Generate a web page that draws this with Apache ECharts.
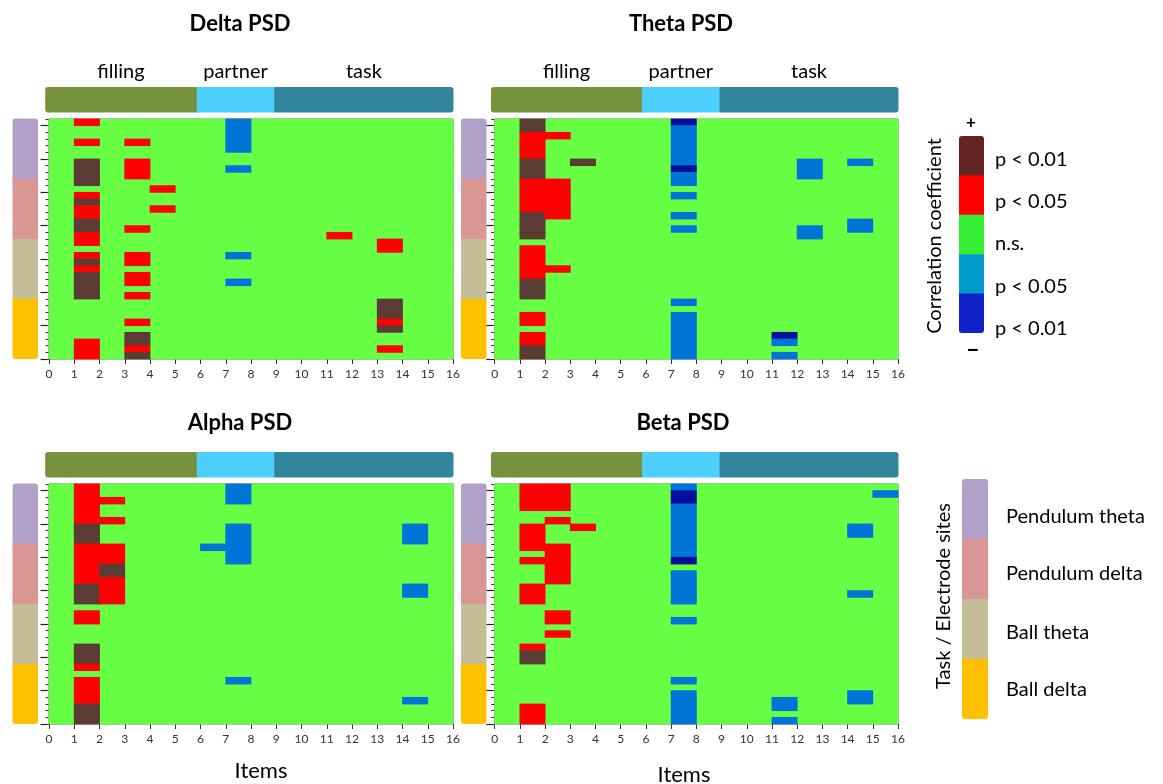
<!DOCTYPE html>
<html><head><meta charset="utf-8">
<script src="https://cdn.jsdelivr.net/npm/echarts@6/dist/echarts.min.js"></script>
<style>html,body{margin:0;padding:0;background:#fff}#c{width:1163px;height:784px}</style>
</head><body><div id="c"></div>
<script>
// ---------------- DATA ----------------
// Each string = one electrode-site row (top to bottom), each char = one item column (0..15).
// '.' n.s., 'r' positive p<0.05, 'R' positive p<0.01, 'b' negative p<0.05, 'B' negative p<0.01
const panelTitles = ['Delta PSD', 'Theta PSD', 'Alpha PSD', 'Beta PSD'];
const itemTicks = [0,1,2,3,4,5,6,7,8,9,10,11,12,13,14,15,16];

const deltaRows = [
".r.....b........", ".......b........", ".......b........", ".r.r...b........",
".......b........", "................", ".R.r............", ".R.r...b........",
".R.r............", ".R..............", "....r...........", ".r..............",
".R..............", ".r..r...........", ".r..............", ".R..............",
".R.r............", ".r.........r....", ".r...........r..", ".............r..",
".r.r...b........", ".R.r............", ".r..............", ".R.r............",
".R.r...b........", ".R..............", ".R.r............", ".............R..",
".............R..", ".............R..", "...r.........r..", ".............R..",
"...R............", ".r.R............", ".r.r.........r..", ".r.R............"
];
const thetaRows = [
".R.....B........", ".R.....b........", ".rr....b........", ".r.....b........",
".r.....b........", ".r.....b........", ".R.R...b....b.b.", ".R.....B....b...",
".R.....b....b...", ".rr....b........", ".rr.............", ".rr....b........",
".rr.............", ".rr.............", ".Rr....b........", ".R............b.",
".R.....b....b.b.", ".R..........b...", "................", ".r..............",
".r..............", ".r..............", ".rr.............", ".r..............",
".R..............", ".R..............", ".R..............", ".......b........",
"................", ".r.....b........", ".r.....b........", ".......b........",
".r.....b...B....", ".r.....b...b....", ".R.....b........", ".R.....b...b...."
];
const alphaRows = [
".r.....b........", ".r.....b........", ".rr....b........", ".r..............",
".r..............", ".rr.............", ".R.....b......b.", ".R.....b......b.",
".R.....b......b.", ".rr...bb........", ".rr....b........", ".rr....b........",
".rR.............", ".rR.............", ".rr.............", ".Rr...........b.",
".Rr...........b.", ".Rr.............", "................", ".r..............",
".r..............", "................", "................", "................",
".R..............", ".R..............", ".R..............", ".r..............",
"................", ".r.....b........", ".r..............", ".r..............",
".r............b.", ".R..............", ".R..............", ".R.............."
];
const betaRows = [
".rr....b........", ".rr....B.......b", ".rr....B........", ".rr....b........",
".......b........", "..r....b........", ".r.r...b......b.", ".r.....b......b.",
".r.....b........", ".rr....b........", "..r....b........", ".rr....B........",
"..r.............", "..r....b........", "..r....b........", ".r.....b........",
".r.....b......b.", ".r.....b........", "................", "..r.............",
"..r....b........", "................", "..r.............", "................",
".r..............", ".R..............", ".R..............", "................",
"................", ".......b........", "................", ".......b......b.",
".......b...b..b.", ".r.....b...b....", ".r.....b........", ".r.....b...b...."
];
const levelCodes = {'.': 0, 'r': 1, 'R': 2, 'b': -1, 'B': -2};

// item groups along the top bar: [start, end] in item units
const itemGroupNames = ['filling', 'partner', 'task'];
const itemGroupBounds = [-0.15, 5.85, 8.92, 16.02];

// task / electrode site groups (rows, top to bottom)
const siteGroupNames = ['Pendulum theta', 'Pendulum delta', 'Ball theta', 'Ball delta'];
const siteGroupSizes = [9, 9, 9, 9];

// correlation legend (top to bottom)
const corrLegendLevels = [2, 1, 0, -1, -2];
const corrLegendLabels = ['p < 0.01', 'p < 0.05', 'n.s.', 'p < 0.05', 'p < 0.01'];

// ---------------- STYLE / LAYOUT ----------------
const NROWS = 36, NITEMS = 16;
const FONT = 'Lato, "Open Sans", "Noto Sans", sans-serif';
const cellColor = {'2': '#5b3c35', '1': '#ff0000', '0': '#66ff44', '-1': '#0075d8', '-2': '#060f9c'};
const legendColor = {'2': '#632523', '1': '#ff0000', '0': '#33ee33', '-1': '#0099cc', '-2': '#1122cc'};
const itemGroupColors = ['#77923c', '#4dd0ff', '#31869e'];
const siteGroupColors = ['#b1a0c7', '#d99694', '#c4bd98', '#ffc000'];

const panelLayout = [
  {left: 49, top: 119, width: 404, side: 12.5, showHeadLabels: true},
  {left: 494.7, top: 119, width: 403.3, side: 461, showHeadLabels: true},
  {left: 49, top: 484, width: 404, side: 12.5, showHeadLabels: false},
  {left: 494.7, top: 484, width: 403.3, side: 461, showHeadLabels: false}
];
const PANEL_H = 240;
const panelRows = [deltaRows, thetaRows, alphaRows, betaRows];

const grids = [], xAxes = [], yAxes = [], series = [];

function parseRows(rows) {
  const out = [];
  rows.forEach((s, r) => { for (let c = 0; c < NITEMS; c++) out.push([c, r, levelCodes[s[c]]]); });
  out.sort((a, b) => (a[2] === 0 ? 0 : 1) - (b[2] === 0 ? 0 : 1));
  return out;
}

function cellRender(params, api) {
  const c = api.value(0), r = api.value(1), lv = api.value(2);
  const p1 = api.coord([c, NROWS - r]);
  const p2 = api.coord([c + 1, NROWS - r - 1]);
  const e = 0.4;
  return {type: 'rect', shape: {x: p1[0] - e, y: p1[1] - e, width: p2[0] - p1[0] + 2 * e, height: p2[1] - p1[1] + 2 * e},
          style: {fill: cellColor[String(lv)]}};
}

function headerRender(showLabels) {
  return function (params, api) {
    const a = api.value(0), b = api.value(1), i = api.value(2);
    const p1 = api.coord([a, 1]), p2 = api.coord([b, 0]);
    const last = itemGroupNames.length - 1;
    const rr = i === 0 ? [3, 0, 0, 3] : (i === last ? [0, 3, 3, 0] : 0);
    const children = [{type: 'rect', shape: {x: p1[0], y: p1[1], width: p2[0] - p1[0] + (i === last ? 0 : 0.5), height: p2[1] - p1[1], r: rr},
                       style: {fill: itemGroupColors[i]}}];
    if (showLabels) {
      children.push({type: 'text', x: (p1[0] + p2[0]) / 2, y: p1[1] - 15,
        style: {text: itemGroupNames[i], font: '20px ' + FONT, fill: '#000', textAlign: 'center', textVerticalAlign: 'middle'}});
    }
    return {type: 'group', children: children};
  };
}

function stackRender(colors, total) {
  return function (params, api) {
    const a = api.value(0), b = api.value(1), i = api.value(2);
    const p1 = api.coord([0, total - a]), p2 = api.coord([1, total - b]);
    const last = colors.length - 1;
    const rr = i === 0 ? [3, 3, 0, 0] : (i === last ? [0, 0, 3, 3] : 0);
    return {type: 'rect', shape: {x: p1[0], y: p1[1], width: p2[0] - p1[0], height: p2[1] - p1[1] + (i === last ? 0 : 0.5), r: rr},
            style: {fill: colors[i]}};
  };
}

const rowTickValues = []; for (let i = 0; i <= NROWS; i++) rowTickValues.push(i);
const longTickValues = []; for (let i = 0; i < NROWS; i += 5) longTickValues.push(i);

const hiddenAxis = {show: false};

panelLayout.forEach((L, p) => {
  // main heatmap grid
  const g = grids.length;
  grids.push({left: L.left, top: L.top, width: L.width, height: PANEL_H, show: true, borderColor: '#666', borderWidth: 1, backgroundColor: 'transparent'});
  const xi = xAxes.length;
  xAxes.push({gridIndex: g, type: 'value', min: 0, max: 16, interval: 1, offset: 2,
    axisLine: {show: false}, splitLine: {show: false},
    axisTick: {show: true, length: 5, lineStyle: {color: '#333', width: 1}},
    axisLabel: {show: true, fontSize: 12, color: '#333', margin: 7, fontFamily: FONT,
      customValues: itemTicks}});
  const yi = yAxes.length;
  yAxes.push({gridIndex: g, type: 'value', min: 0, max: NROWS, position: 'left', offset: 2,
    axisLine: {show: false}, splitLine: {show: false}, axisLabel: {show: false},
    axisTick: {show: true, length: 3.5, customValues: rowTickValues, lineStyle: {color: '#333', width: 1}}});
  yAxes.push({gridIndex: g, type: 'value', min: 0, max: NROWS, position: 'left', offset: 2,
    axisLine: {show: false}, splitLine: {show: false}, axisLabel: {show: false},
    axisTick: {show: true, length: 6.5, customValues: longTickValues, lineStyle: {color: '#222', width: 1.2}}});
  series.push({type: 'custom', xAxisIndex: xi, yAxisIndex: yi, renderItem: cellRender,
    encode: {x: 0, y: 1}, data: parseRows(panelRows[p]), silent: true});

  // header bar
  const hg = grids.length;
  grids.push({left: L.left, top: L.top - 32, width: L.width, height: 25.5, show: false});
  const hx = xAxes.length;
  xAxes.push(Object.assign({gridIndex: hg, type: 'value', min: 0, max: 16}, hiddenAxis));
  const hy = yAxes.length;
  yAxes.push(Object.assign({gridIndex: hg, type: 'value', min: 0, max: 1}, hiddenAxis));
  const hdata = itemGroupNames.map((n, i) => [itemGroupBounds[i], itemGroupBounds[i + 1], i]);
  series.push({type: 'custom', xAxisIndex: hx, yAxisIndex: hy, renderItem: headerRender(L.showHeadLabels),
    encode: {x: [0, 1]}, data: hdata, silent: true});

  // site group side bar
  const sg = grids.length;
  grids.push({left: L.side, top: L.top - 0.5, width: 25.5, height: PANEL_H + 0.5, show: false});
  const sx = xAxes.length;
  xAxes.push(Object.assign({gridIndex: sg, type: 'value', min: 0, max: 1}, hiddenAxis));
  const sy = yAxes.length;
  yAxes.push(Object.assign({gridIndex: sg, type: 'value', min: 0, max: NROWS}, hiddenAxis));
  let acc = 0;
  const sdata = siteGroupSizes.map((n, i) => { const d = [acc, acc + n, i]; acc += n; return d; });
  series.push({type: 'custom', xAxisIndex: sx, yAxisIndex: sy, renderItem: stackRender(siteGroupColors, NROWS),
    encode: {y: [0, 1]}, data: sdata, silent: true});
});

// correlation legend bar
{
  const g = grids.length;
  grids.push({left: 959, top: 136, width: 25, height: 197, show: false});
  const x = xAxes.length; xAxes.push(Object.assign({gridIndex: g, type: 'value', min: 0, max: 1}, hiddenAxis));
  const y = yAxes.length; yAxes.push(Object.assign({gridIndex: g, type: 'value', min: 0, max: corrLegendLevels.length}, hiddenAxis));
  const cols = corrLegendLevels.map(l => legendColor[String(l)]);
  series.push({type: 'custom', xAxisIndex: x, yAxisIndex: y, renderItem: stackRender(cols, corrLegendLevels.length),
    encode: {y: [0, 1]}, data: corrLegendLevels.map((l, i) => [i, i + 1, i]), silent: true});
}
// site legend bar
{
  const g = grids.length;
  grids.push({left: 962, top: 479, width: 26, height: 240, show: false});
  const x = xAxes.length; xAxes.push(Object.assign({gridIndex: g, type: 'value', min: 0, max: 1}, hiddenAxis));
  const y = yAxes.length; yAxes.push(Object.assign({gridIndex: g, type: 'value', min: 0, max: siteGroupNames.length}, hiddenAxis));
  series.push({type: 'custom', xAxisIndex: x, yAxisIndex: y, renderItem: stackRender(siteGroupColors, siteGroupNames.length),
    encode: {y: [0, 1]}, data: siteGroupNames.map((n, i) => [i, i + 1, i]), silent: true});
}

// ---------------- TEXT ----------------
function txt(text, x, y, font, extra) {
  return Object.assign({type: 'text', x: x, y: y, silent: true,
    style: {text: text, font: font, fill: '#000', textAlign: 'center', textVerticalAlign: 'middle'}}, extra || {});
}
const titlePos = [[240, 24], [681, 24], [240, 423], [683, 423]];
const graphics = [];
panelTitles.forEach((t, i) => graphics.push(txt(t, titlePos[i][0], titlePos[i][1], 'bold 22px ' + FONT)));
graphics.push(txt('Items', 261, 771, '22px ' + FONT));
graphics.push(txt('Items', 684, 775, '22px ' + FONT));
graphics.push(txt('Correlation coefficient', 935, 236, '20px ' + FONT, {rotation: Math.PI / 2}));
graphics.push(txt('Task / Electrode sites', 944, 596, '20px ' + FONT, {rotation: Math.PI / 2}));
graphics.push(txt('+', 971, 123, 'bold 17px ' + FONT));
graphics.push(txt('\u2212', 973, 351, 'bold 22px ' + FONT));
const corrLabelY = [160, 202, 244, 287, 329];
corrLegendLabels.forEach((t, i) => {
  const e = txt(t, 995, corrLabelY[i], '20px ' + FONT); e.style.textAlign = 'left'; graphics.push(e);
});
const siteLabelY = [517, 574, 633, 690];
siteGroupNames.forEach((t, i) => {
  const e = txt(t, 1006, siteLabelY[i], '20px ' + FONT); e.style.textAlign = 'left'; graphics.push(e);
});

const chart = echarts.init(document.getElementById('c'), null, {renderer: 'canvas'});
chart.setOption({
  animation: false,
  backgroundColor: '#ffffff',
  grid: grids, xAxis: xAxes, yAxis: yAxes, series: series,
  graphic: graphics
});
</script>
</body></html>
